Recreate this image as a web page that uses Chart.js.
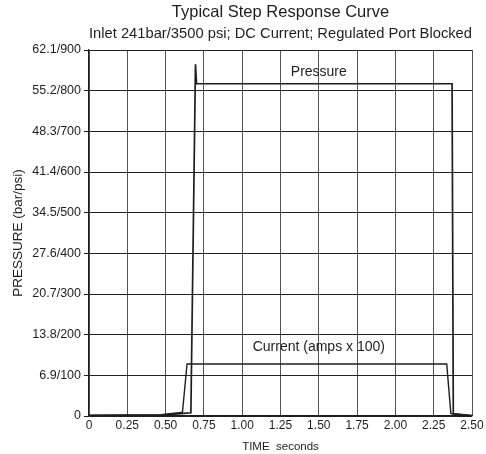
<!DOCTYPE html>
<html>
<head>
<meta charset="utf-8">
<script src="https://cdn.jsdelivr.net/npm/chart.js@4.4.1/dist/chart.umd.min.js"></script>
<style>
  html, body { margin: 0; padding: 0; background: #fff; }
  #wrap { width: 486px; height: 454px; position: relative; }
</style>
</head>
<body>
<div id="wrap"><canvas id="chart1"></canvas></div>
<script>
// time in seconds, values on the psi scale
const pressureTime = [0, 0.47, 0.6, 0.665, 0.695, 0.702, 2.37, 2.378, 2.5];
const pressurePsi = [1, 2, 6, 8, 865, 817, 817, 5, 1];

const currentTime = [0, 0.47, 0.6, 0.61, 0.64, 2.335, 2.362, 2.39, 2.5];
const currentPsi = [2, 3, 9, 9, 128, 128, 6, 5, 1];

const yTickValues = [0, 100, 200, 300, 400, 500, 600, 700, 800, 900];
const yTickLabels = ['0', '6.9/100', '13.8/200', '20.7/300', '27.6/400', '34.5/500', '41.4/600', '48.3/700', '55.2/800', '62.1/900'];

// in-plot labels: [text, time, psi]
const curveLabels = [
  ['Pressure', 1.5, 846],
  ['Current (amps x 100)', 1.5, 170]
];

const font = '"Liberation Sans", Arial, sans-serif';
const ink = '#1e1e1e';

const zip = (xs, ys) => xs.map((x, i) => ({ x: x, y: ys[i] }));

const curveLabelPlugin = {
  id: 'curveLabels',
  afterDatasetsDraw(chart) {
    const ctx = chart.ctx;
    const xs = chart.scales.x, ys = chart.scales.y;
    ctx.save();
    ctx.font = '14px ' + font;
    ctx.fillStyle = ink;
    ctx.textAlign = 'center';
    ctx.textBaseline = 'middle';
    curveLabels.forEach(l => {
      ctx.fillText(l[0], xs.getPixelForValue(l[1]), ys.getPixelForValue(l[2]));
    });
    ctx.restore();
  }
};

new Chart(document.getElementById('chart1'), {
  type: 'line',
  data: {
    datasets: [
      {
        label: 'Pressure',
        data: zip(pressureTime, pressurePsi),
        borderColor: ink,
        borderWidth: 1.7,
        pointRadius: 0,
        tension: 0,
        fill: false
      },
      {
        label: 'Current (amps x 100)',
        data: zip(currentTime, currentPsi),
        borderColor: ink,
        borderWidth: 1.4,
        pointRadius: 0,
        tension: 0,
        fill: false
      }
    ]
  },
  options: {
    responsive: true,
    maintainAspectRatio: false,
    animation: false,
    layout: { padding: { left: 0, right: 14, top: 0, bottom: 0 } },
    plugins: {
      legend: { display: false },
      tooltip: { enabled: false },
      title: {
        display: true,
        fullSize: false,
        text: 'Typical Step Response Curve',
        color: ink,
        font: { family: font, size: 16.5, weight: 'normal' },
        padding: { top: 3, bottom: 2 }
      },
      subtitle: {
        display: true,
        fullSize: false,
        text: 'Inlet 241bar/3500 psi; DC Current; Regulated Port Blocked',
        color: ink,
        font: { family: font, size: 15, weight: 'normal' },
        padding: { top: 0, bottom: 7.2 }
      }
    },
    scales: {
      x: {
        type: 'linear',
        min: 0,
        max: 2.5,
        ticks: {
          stepSize: 0.25,
          color: ink,
          font: { family: font, size: 12 },
          padding: 2,
          maxRotation: 0,
          callback: v => v === 0 ? '0' : v.toFixed(2)
        },
        grid: { color: '#555', lineWidth: 1, drawTicks: false },
        border: { color: ink, width: 1.2 },
        title: {
          display: true,
          text: 'TIME  seconds',
          color: ink,
          font: { family: font, size: 11.5 },
          padding: { top: 1, bottom: 0 }
        },
        afterFit: s => { s.height = 38; }
      },
      y: {
        min: 0,
        max: 900,
        afterBuildTicks: s => { s.ticks = yTickValues.map(v => ({ value: v })); },
        ticks: {
          color: ink,
          font: { family: font, size: 12.5 },
          padding: 3,
          callback: v => yTickLabels[yTickValues.indexOf(v)]
        },
        grid: { color: '#222', lineWidth: 1, tickLength: 5 },
        border: { color: ink, width: 1.2 },
        title: {
          display: true,
          text: 'PRESSURE (bar/psi)',
          color: ink,
          font: { family: font, size: 13.5 },
          padding: { top: 10, bottom: 4 }
        },
        afterFit: s => { s.width = 89; }
      }
    }
  },
  plugins: [curveLabelPlugin]
});
</script>
</body>
</html>
